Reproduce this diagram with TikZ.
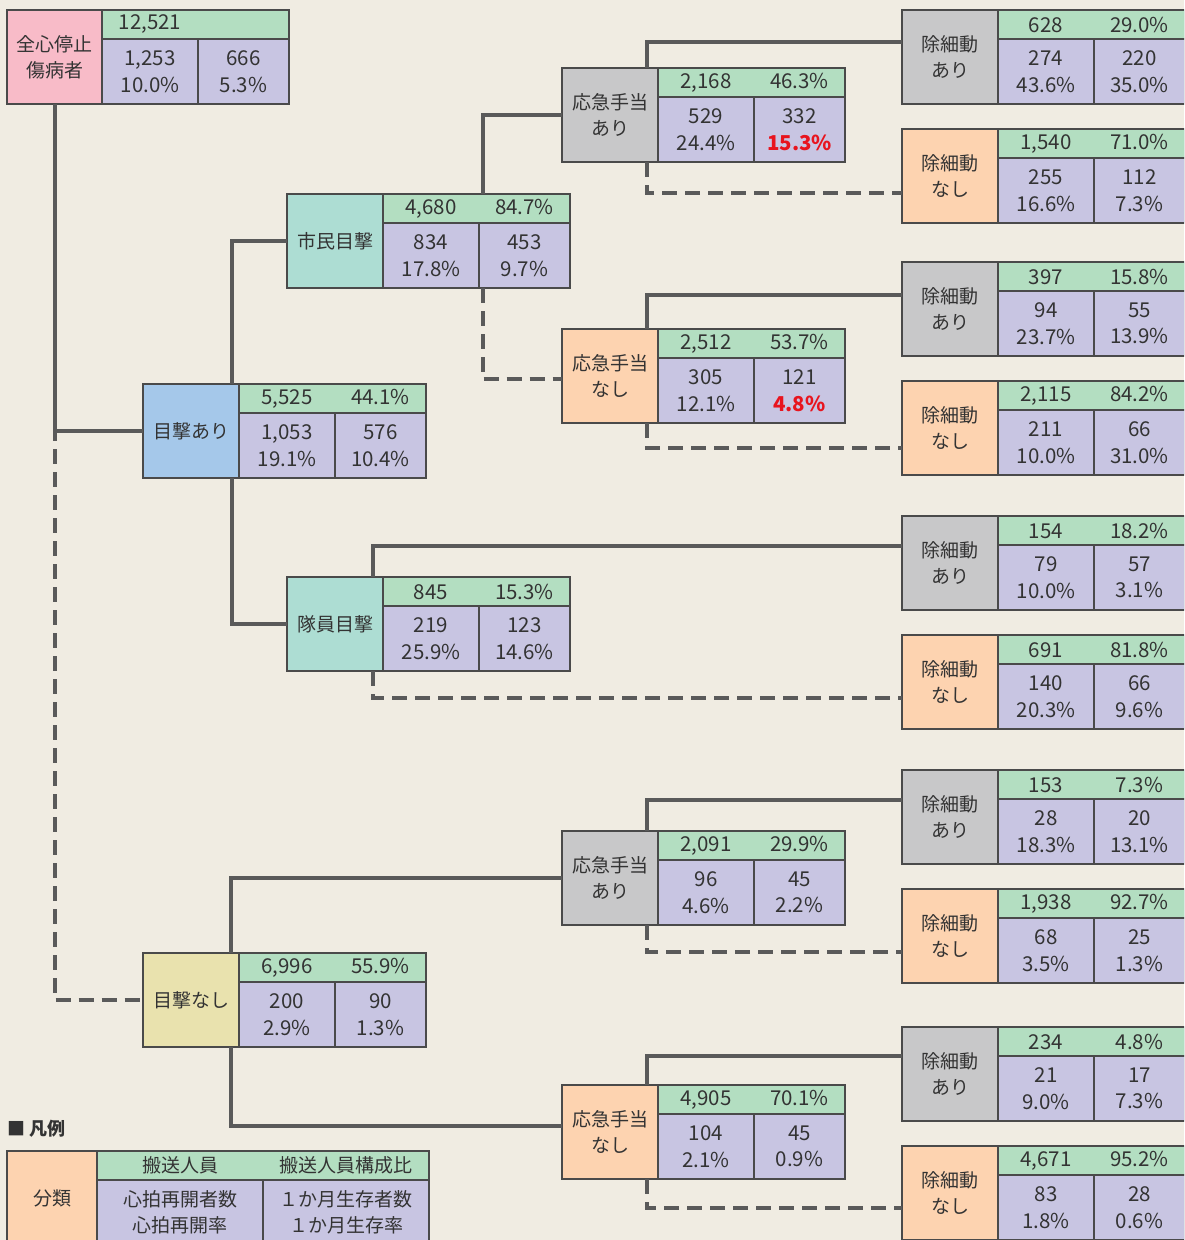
\documentclass[tikz,border=0pt]{standalone}
\usepackage{fontspec}
\setmainfont{Noto Sans CJK JP}
\definecolor{bg}{HTML}{F0ECE2}
\definecolor{hdrgreen}{HTML}{B3DEC1}
\definecolor{lav}{HTML}{C8C5E2}
\definecolor{pinkc}{HTML}{F8BBC8}
\definecolor{grayc}{HTML}{C8C8C9}
\definecolor{peach}{HTML}{FDD3B0}
\definecolor{tealc}{HTML}{ADDDD3}
\definecolor{bluec}{HTML}{A5C8EA}
\definecolor{yellowc}{HTML}{E9E2AE}
\definecolor{redt}{HTML}{E8141E}
\definecolor{txt}{HTML}{333333}
\definecolor{bord}{HTML}{4A4A4A}
\definecolor{conc}{HTML}{5A5A5A}
\newcommand{\rd}[1]{{\bfseries\color{redt}#1}}
\newcommand{\databox}[9]{%
  \node[lab, fill=#4, anchor=north west] (#1) at (#2,#3) {#5};
  \node[hd, minimum width=187pt, anchor=north west] (#1ha) at (#1.north east) {\makebox[96pt]{#6}\makebox[91pt]{#7}};
  \node[cl, minimum width=96pt, anchor=north west] (#1ca) at (#1ha.south west) {#8};
  \node[cl, minimum width=91pt, anchor=north west] (#1cb) at (#1ca.north east) {#9};
}
\begin{document}
\begin{tikzpicture}[x=1pt,y=-1pt,
  base/.style={draw=bord, line width=1.3pt, inner sep=0pt, outer sep=0pt, align=center,
    text=txt, font=\fontsize{19}{26}\selectfont},
  lab/.style={base, minimum width=96pt, minimum height=94pt},
  hd/.style={base, fill=hdrgreen, minimum height=29pt, font=\fontsize{20.5}{26}\selectfont},
  cl/.style={base, fill=lav, minimum height=65pt, font=\fontsize{20.5}{26.5}\selectfont},
  lgtext/.style={font=\fontsize{19}{26}\selectfont},
  conn/.style={draw=conc, line width=4pt},
  dconn/.style={draw=conc, line width=4pt, dash pattern=on 15pt off 8pt}]
\useasboundingbox (0,0) rectangle (1184,1240);
\clip (0,0) rectangle (1184,1240);
\fill[bg] (0,0) rectangle (1184,1240);

% root
\node[lab, fill=pinkc, minimum width=95pt, anchor=north west] (root) at (7,10) {全心停止\\傷病者};
\node[hd, minimum width=187pt, anchor=north west] (rootha) at (root.north east) {\makebox[96pt]{12,521}\hspace{91pt}};
\node[cl, minimum width=96pt, anchor=north west] (rootca) at (rootha.south west) {1,253\\10.0\%};
\node[cl, minimum width=91pt, anchor=north west] (rootcb) at (rootca.north east) {666\\5.3\%};

\databox{cw}{287}{194}{tealc}{市民目撃}{4,680}{84.7\%}{834\\17.8\%}{453\\9.7\%}
\databox{eA}{143}{384}{bluec}{目撃あり}{5,525}{44.1\%}{1,053\\19.1\%}{576\\10.4\%}
\databox{tw}{287}{577}{tealc}{隊員目撃}{845}{15.3\%}{219\\25.9\%}{123\\14.6\%}
\databox{eN}{143}{953}{yellowc}{目撃なし}{6,996}{55.9\%}{200\\2.9\%}{90\\1.3\%}

\databox{oAa}{562}{68}{grayc}{応急手当\\あり}{2,168}{46.3\%}{529\\24.4\%}{332\\\rd{15.3\%}}
\databox{oNa}{562}{329}{peach}{応急手当\\なし}{2,512}{53.7\%}{305\\12.1\%}{121\\\rd{4.8\%}}
\databox{oAb}{562}{831}{grayc}{応急手当\\あり}{2,091}{29.9\%}{96\\4.6\%}{45\\2.2\%}
\databox{oNb}{562}{1085}{peach}{応急手当\\なし}{4,905}{70.1\%}{104\\2.1\%}{45\\0.9\%}

\databox{dAa}{902}{10}{grayc}{除細動\\あり}{628}{29.0\%}{274\\43.6\%}{220\\35.0\%}
\databox{dNa}{902}{129}{peach}{除細動\\なし}{1,540}{71.0\%}{255\\16.6\%}{112\\7.3\%}
\databox{dAb}{902}{262}{grayc}{除細動\\あり}{397}{15.8\%}{94\\23.7\%}{55\\13.9\%}
\databox{dNb}{902}{381}{peach}{除細動\\なし}{2,115}{84.2\%}{211\\10.0\%}{66\\31.0\%}
\databox{dAc}{902}{516}{grayc}{除細動\\あり}{154}{18.2\%}{79\\10.0\%}{57\\3.1\%}
\databox{dNc}{902}{635}{peach}{除細動\\なし}{691}{81.8\%}{140\\20.3\%}{66\\9.6\%}
\databox{dAd}{902}{770}{grayc}{除細動\\あり}{153}{7.3\%}{28\\18.3\%}{20\\13.1\%}
\databox{dNd}{902}{889}{peach}{除細動\\なし}{1,938}{92.7\%}{68\\3.5\%}{25\\1.3\%}
\databox{dAe}{902}{1027}{grayc}{除細動\\あり}{234}{4.8\%}{21\\9.0\%}{17\\7.3\%}
\databox{dNe}{902}{1146}{peach}{除細動\\なし}{4,671}{95.2\%}{83\\1.8\%}{28\\0.6\%}

% connectors
\draw[dconn] (root.south) |- (eN.west);
\draw[conn] (root.south) |- (eA.west);
\draw[conn] ([xshift=-7pt]eA.north east) |- (cw.west);
\draw[conn] ([xshift=-7pt]eA.south east) |- (tw.west);
\draw[conn] ([xshift=-8pt]eN.north east) |- (oAb.west);
\draw[conn] ([xshift=-8pt]eN.south east) |- ([yshift=-41pt]oNb.north west);
\draw[conn] ([xshift=99.5pt]cw.north east) |- (oAa.west);
\draw[dconn] ([xshift=3.5pt]cwca.south east) |- ([yshift=-50pt]oNa.north west);
\draw[conn] ([xshift=-11pt]oAa.north east) |- ([yshift=-32pt]dAa.north west);
\draw[dconn] ([xshift=-11pt]oAa.south east) |- ([yshift=-64pt]dNa.north west);
\draw[conn] ([xshift=-11pt]oNa.north east) |- ([yshift=-33pt]dAb.north west);
\draw[dconn] ([xshift=-11pt]oNa.south east) |- ([yshift=-67pt]dNb.north west);
\draw[conn] ([xshift=-10pt]tw.north east) |- ([yshift=-30pt]dAc.north west);
\draw[dconn] ([xshift=-10pt]tw.south east) |- ([yshift=-63pt]dNc.north west);
\draw[conn] ([xshift=-11pt]oAb.north east) |- ([yshift=-30pt]dAd.north west);
\draw[dconn] ([xshift=-11pt]oAb.south east) |- ([yshift=-63pt]dNd.north west);
\draw[conn] ([xshift=-11pt]oNb.north east) |- ([yshift=-29pt]dAe.north west);
\draw[dconn] ([xshift=-11pt]oNb.south east) |- ([yshift=-62pt]dNe.north west);

% legend
\node[anchor=west, inner sep=0pt, text=txt, font=\fontsize{18}{22}\selectfont\bfseries] (legt) at (7,1129) {■ 凡例};
\node[lab, fill=peach, minimum width=90pt, anchor=north west] (lgl) at (7,1151) {分類};
\node[hd, lgtext, minimum width=332pt, anchor=north west] (lgha) at (lgl.north east) {\makebox[166pt]{搬送人員}\makebox[166pt]{搬送人員構成比}};
\node[cl, lgtext, minimum width=166pt, anchor=north west] (lgca) at (lgha.south west) {心拍再開者数\\心拍再開率};
\node[cl, lgtext, minimum width=166pt, anchor=north west] (lgcb) at (lgca.north east) {１か月生存者数\\１か月生存率};
\end{tikzpicture}
\end{document}
